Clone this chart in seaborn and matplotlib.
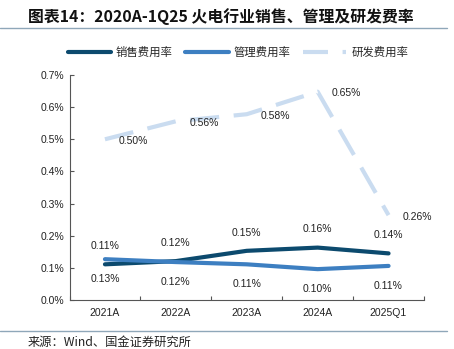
import matplotlib
matplotlib.use("Agg")
import matplotlib.pyplot as plt
from matplotlib.lines import Line2D
import seaborn as sns
import pandas as pd

# Data (%)
periods = ["2021A", "2022A", "2023A", "2024A", "2025Q1"]
sales_rate = [0.111, 0.121, 0.153, 0.163, 0.145]
admin_rate = [0.127, 0.118, 0.111, 0.096, 0.106]
rd_rate = [0.50, 0.556, 0.578, 0.648, 0.264]
series_names = ["销售费用率", "管理费用率", "研发费用率"]
y_ticks = [0.0, 0.1, 0.2, 0.3, 0.4, 0.5, 0.6, 0.7]

colors = {"销售费用率": "#0C4A6E", "管理费用率": "#3D7FC1", "研发费用率": "#CADCF0"}

sns.set_theme(style="white")
plt.rcParams["font.family"] = ["Liberation Sans", "Noto Sans CJK SC", "DejaVu Sans"]

df = pd.DataFrame({
    "period": periods * 3,
    "rate": sales_rate + admin_rate + rd_rate,
    "series": [s for s in series_names for _ in periods],
})

fig = plt.figure(figsize=(4.54, 3.49), dpi=100)
ax = fig.add_axes([69.5 / 454, 1 - 300 / 349, (424 - 69.5) / 454, (300 - 75) / 349])

dash_styles = {"销售费用率": "", "管理费用率": "", "研发费用率": (7, 3.5)}
sns.lineplot(data=df, x="period", y="rate", hue="series", style="series",
             palette=colors, dashes=dash_styles, linewidth=3, ax=ax,
             legend=False, sort=False)

ax.set_xlim(-0.5, 4.5)
ax.set_ylim(0, 0.7)
ax.set_yticks(y_ticks)
ax.set_yticklabels([f"{v:.1f}%" for v in y_ticks], fontsize=7.5, color="#222222")
ax.set_xticks(range(len(periods)))
ax.set_xticklabels(periods, fontsize=7.5, color="#222222")
ax.set_xlabel("")
ax.set_ylabel("")
ax.grid(False)

for side in ["top", "right"]:
    ax.spines[side].set_visible(False)
for side in ["left", "bottom"]:
    ax.spines[side].set_color("#555555")
    ax.spines[side].set_linewidth(0.8)

# y ticks point inward; x ticks sit at the category boundaries
ax.tick_params(axis="y", direction="in", length=3, width=0.8, color="#555555", pad=4, left=True)
ax.tick_params(axis="x", length=0, pad=6)
ax.set_xticks([i + 0.5 for i in range(len(periods) - 1)] + [-0.5, 4.5], minor=True)
ax.tick_params(axis="x", which="minor", direction="in", length=3, width=0.8, color="#555555", bottom=True)

lbl = dict(fontsize=7.5, color="#222222")
for i, v in enumerate(sales_rate):
    ax.annotate(f"{v:.2f}%", (i, v), xytext=(0, 9.5), textcoords="offset points",
                ha="center", va="bottom", **lbl)
for i, v in enumerate(admin_rate):
    ax.annotate(f"{v:.2f}%", (i, v), xytext=(0, -10.5), textcoords="offset points",
                ha="center", va="top", **lbl)
for i, v in enumerate(rd_rate):
    ax.annotate(f"{v:.2f}%", (i, v), xytext=(10, -1), textcoords="offset points",
                ha="left", va="center", **lbl)

# Legend
handles = [
    Line2D([], [], color=colors["销售费用率"], lw=3),
    Line2D([], [], color=colors["管理费用率"], lw=3),
    Line2D([], [], color=colors["研发费用率"], lw=3, dashes=(6, 3.5)),
]
fig.legend(handles, series_names, loc="center", bbox_to_anchor=(238 / 454, 1 - 52 / 349),
           ncol=3, frameon=False, handlelength=3.8, handletextpad=0.45, columnspacing=1.1,
           prop={"family": ["Noto Sans CJK SC"], "size": 8.2})

# Title, rules and source note
fig.text(28 / 454, 1 - 17 / 349, "图表14：2020A-1Q25 火电行业销售、管理及研发费率",
         fontsize=11.4, fontweight="bold", style="italic", color="#111111",
         family=["Noto Sans CJK SC", "DejaVu Sans"], ha="left", va="center")
fig.add_artist(Line2D([0, 447 / 454], [1 - 28 / 349] * 2, color="#8FA7B9", lw=1.0))
fig.add_artist(Line2D([0, 447 / 454], [1 - 331 / 349] * 2, color="#8FA7B9", lw=1.0))
fig.text(28 / 454, 1 - 342 / 349, "来源：Wind、国金证券研究所", fontsize=8.8,
         color="#222222", family=["Noto Sans CJK SC", "DejaVu Sans"], ha="left", va="center")

fig.savefig("out.png", dpi=100)
